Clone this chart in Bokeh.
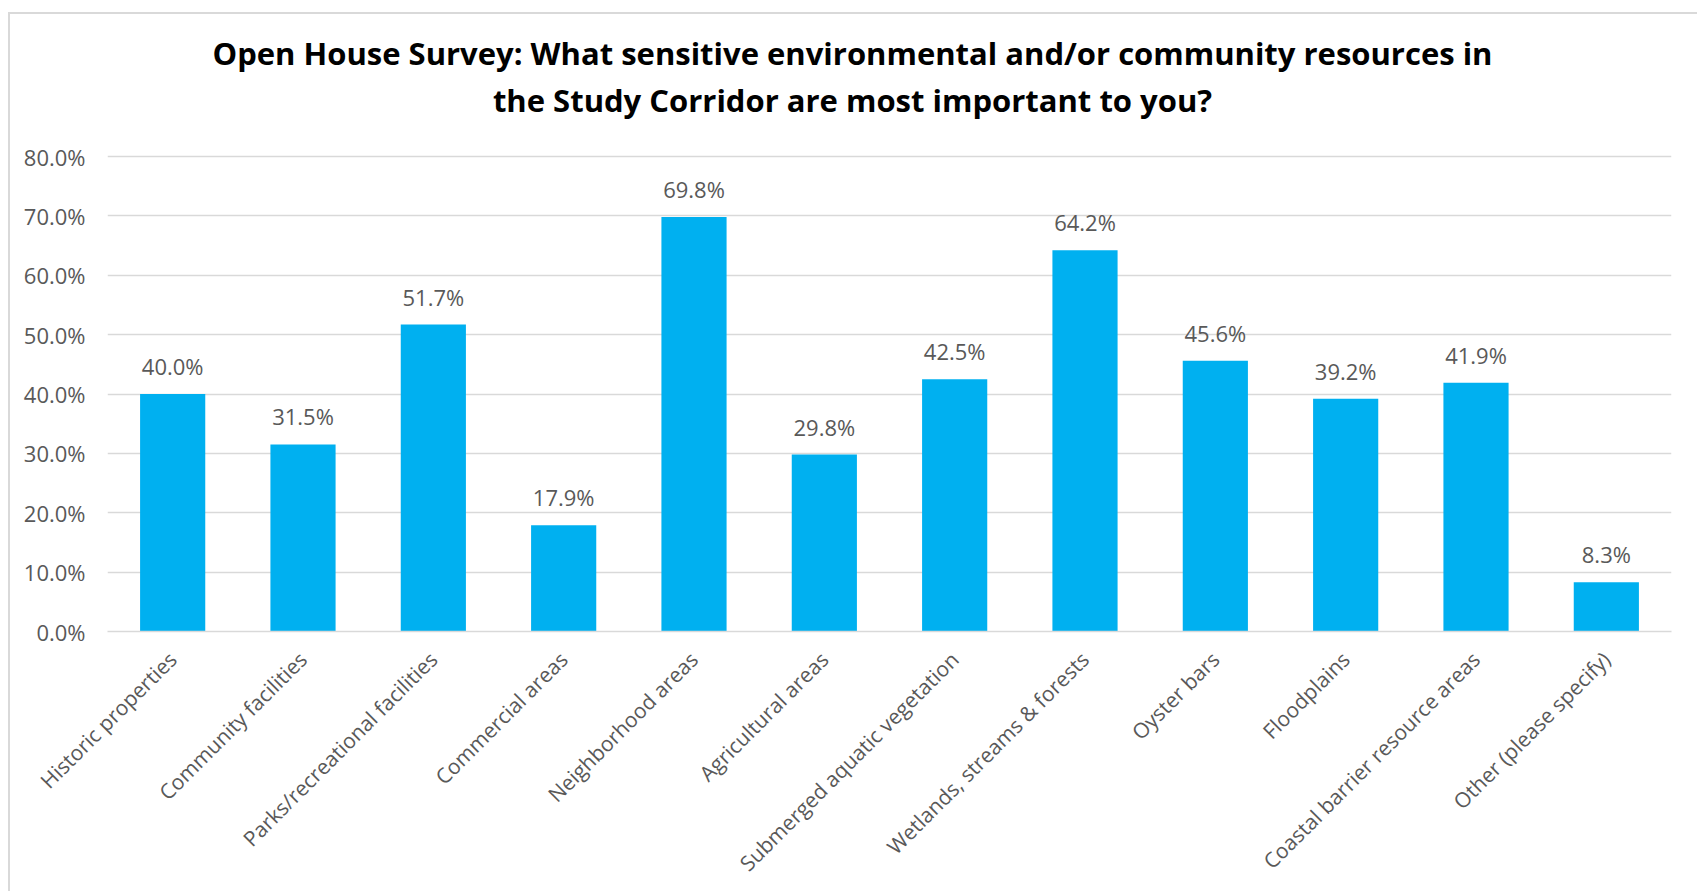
import math
from bokeh.plotting import figure
from bokeh.models import ColumnDataSource, Range1d, FactorRange, Label, NumeralTickFormatter, FixedTicker
from bokeh.embed import file_html
from bokeh.resources import INLINE
from bokeh.core.properties import value

categories = [
    "Historic properties",
    "Community facilities",
    "Parks/recreational facilities",
    "Commercial areas",
    "Neighborhood areas",
    "Agricultural areas",
    "Submerged aquatic vegetation",
    "Wetlands, streams & forests",
    "Oyster bars",
    "Floodplains",
    "Coastal barrier resource areas",
    "Other (please specify)",
]
percentages = [0.400, 0.315, 0.517, 0.179, 0.698, 0.298, 0.425, 0.642, 0.456, 0.392, 0.419, 0.083]
y_ticks = [0.0, 0.1, 0.2, 0.3, 0.4, 0.5, 0.6, 0.7, 0.8]
title_lines = [
    "Open House Survey: What sensitive environmental and/or community resources in",
    "the Study Corridor are most important to you?",
]

FONT = "Open Sans"
GRAY_TEXT = "#595959"
GRID = "#d9d9d9"
BAR = "#00b0f0"

labels = ["{:.1f}%".format(v * 100) for v in percentages]
src = ColumnDataSource(dict(cat=categories, val=percentages, lab=labels))

# frame reaches up to just below the chart border; gridlines/ticks stop at 80%,
# the space above holds the two-line title
p = figure(
    x_range=FactorRange(*categories),
    y_range=Range1d(0, 1.0055),
    width=1689, height=879,
    output_backend="svg", toolbar_location=None,
    min_border_left=97, min_border_right=28,
    min_border_top=20, min_border_bottom=262,
)
p.margin = (12, 0, 0, 8)
p.styles = {"border-left": "2px solid #d9d9d9", "border-top": "2px solid #d9d9d9"}

p.vbar(x="cat", top="val", width=0.5, source=src, fill_color=BAR, line_color=None)
p.text(x="cat", y="val", text="lab", source=src, text_align="center",
       text_baseline="alphabetic", y_offset=-28,
       text_font=value(FONT), text_font_size="22px", text_color=GRAY_TEXT)

p.outline_line_color = None
p.xgrid.grid_line_color = None
p.ygrid.ticker = FixedTicker(ticks=y_ticks)
p.ygrid.grid_line_color = GRID
p.ygrid.grid_line_width = 1.3

p.yaxis.ticker = FixedTicker(ticks=y_ticks)
p.yaxis.formatter = NumeralTickFormatter(format="0.0%")
p.yaxis.axis_line_color = None
p.yaxis.major_tick_line_color = None
p.yaxis.minor_tick_line_color = None
p.yaxis.major_label_standoff = 16
p.yaxis.major_label_text_font = FONT
p.yaxis.major_label_text_font_size = "22px"
p.yaxis.major_label_text_color = GRAY_TEXT

p.xaxis.axis_line_color = GRID
p.xaxis.axis_line_width = 1.3
p.xaxis.major_tick_line_color = None
p.xaxis.minor_tick_line_color = None
p.xaxis.major_label_orientation = math.pi / 4
p.xaxis.major_label_standoff = 18
p.xaxis.major_label_text_font = FONT
p.xaxis.major_label_text_font_size = "21px"
p.xaxis.major_label_text_color = GRAY_TEXT

title_x = 5.716
title_y = [0.9735, 0.895]
for line, ty in zip(title_lines, title_y):
    p.add_layout(Label(x=title_x, y=ty, text=line, text_align="center",
                       text_baseline="alphabetic", text_font=FONT,
                       text_font_size="31px", text_font_style="bold",
                       text_color="#000000"))

open("out.html", "w").write(file_html(p, INLINE))
